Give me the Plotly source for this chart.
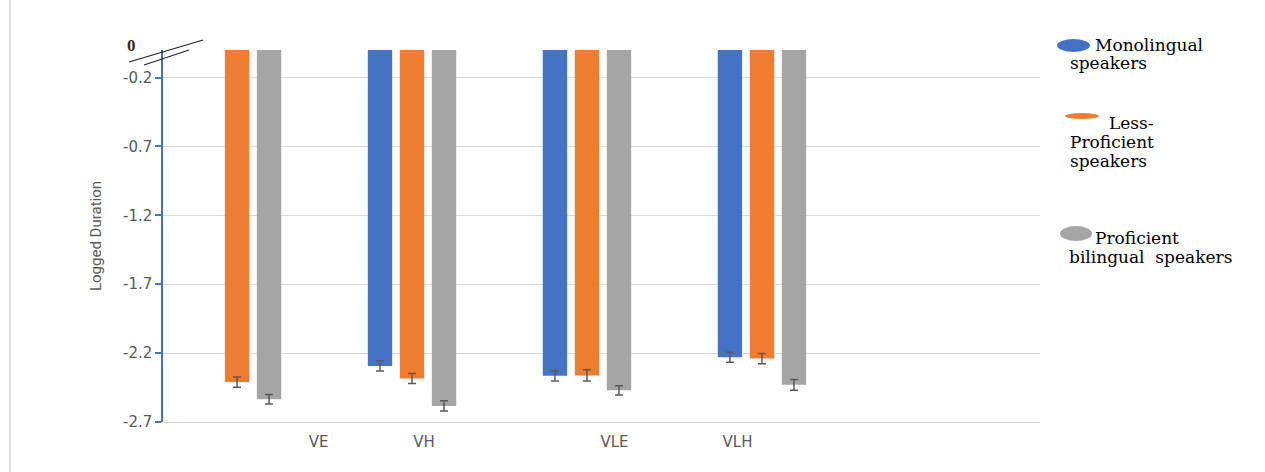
import plotly.graph_objects as go

# ---- data ----
categories = ["VE", "VH", "VLE", "VLH"]
mono = [None, -2.293, -2.365, -2.230]
mono_err = [None, 0.037, 0.037, 0.037]
less = [-2.410, -2.384, -2.362, -2.240]
less_err = [0.037, 0.036, 0.041, 0.037]
prof = [-2.535, -2.583, -2.470, -2.430]
prof_err = [0.035, 0.037, 0.034, 0.039]
y_ticks = [-0.2, -0.7, -1.2, -1.7, -2.2, -2.7]

# ---- layout constants ----
W, H = 1265, 472
ML, MR, MT, MB = 163, 225, 50, 50
LABEL_POS = [0.467, 1.069, 2.157, 2.860]   # where the category labels sit (as in the source)
x_idx = list(range(len(categories)))

BLUE, ORANGE, GRAY = "#4472C4", "#ED7D31", "#A5A5A5"
TXT = "#595959"

def px(x):
    return (x - ML) / (W - ML - MR)

def py(y):
    return (H - MB - y) / (H - MT - MB)

fig = go.Figure()
for name, vals, errs, col in [("Monolingual speakers", mono, mono_err, BLUE),
                              ("Less-Proficient speakers", less, less_err, ORANGE),
                              ("Proficient bilingual speakers", prof, prof_err, GRAY)]:
    fig.add_trace(go.Bar(
        x=x_idx, y=vals, name=name, marker_color=col, marker_line_width=0,
        error_y=dict(type="data", array=errs, color="#595959", thickness=1.5, width=4),
        showlegend=False))

fig.update_layout(
    width=W, height=H, margin=dict(l=ML, r=MR, t=MT, b=MB),
    paper_bgcolor="white", plot_bgcolor="white",
    barmode="group", bargap=0.451, bargroupgap=0.24,
    xaxis=dict(range=[-0.423, 4.589], tickvals=LABEL_POS, ticktext=categories,
               showgrid=False, zeroline=False, showline=True, linecolor="#D9D9D9",
               linewidth=1, ticks="", ticklabelstandoff=6,
               tickfont=dict(family="DejaVu Sans", size=15, color=TXT)),
    yaxis=dict(range=[-2.7, 0.0], tickvals=y_ticks, ticktext=[f"{v:.1f}" for v in y_ticks],
               showgrid=True, gridcolor="#D9D9D9", gridwidth=1, zeroline=False,
               showline=True, linecolor=BLUE, linewidth=1.5, ticks="outside",
               ticklen=6, tickcolor=BLUE, tickwidth=1.5,
               tickfont=dict(family="DejaVu Sans", size=15, color=TXT),
               title=dict(text="Logged Duration", standoff=18,
                          font=dict(family="Liberation Sans Narrow, Roboto, sans-serif",
                                    size=15, color=TXT))),
)

shapes = []
# left border line of the picture
shapes.append(dict(type="line", xref="paper", yref="paper", x0=px(10), x1=px(10),
                   y0=py(0), y1=py(472), line=dict(color="#D0D0D0", width=1.5)))
# axis break marks
shapes.append(dict(type="line", xref="paper", yref="paper", x0=px(129), y0=py(62),
                   x1=px(203), y1=py(40), line=dict(color="#222222", width=1.2)))
shapes.append(dict(type="line", xref="paper", yref="paper", x0=px(144), y0=py(65),
                   x1=px(189), y1=py(50), line=dict(color="#222222", width=1.2)))
# legend markers (ellipses)
for (x0, y0, x1, y1, col) in [(1057, 39, 1090, 52, BLUE), (1065, 113, 1099, 119, ORANGE),
                              (1060, 226, 1092, 241, GRAY)]:
    shapes.append(dict(type="circle", xref="paper", yref="paper", x0=px(x0), x1=px(x1),
                       y0=py(y1), y1=py(y0), fillcolor=col, line=dict(width=0)))
fig.update_layout(shapes=shapes)

annotations = [dict(text="<b>0</b>", x=px(131), y=py(45), xref="paper", yref="paper",
                    xanchor="center", yanchor="middle", showarrow=False,
                    font=dict(family="Liberation Serif", size=17, color="#3a2a1e"))]
LEG_FONT = dict(family="DejaVu Serif", size=17, color="black")
for text, x, y in [("Monolingual", 1093, 45), ("speakers", 1068, 63),
                   ("Less-", 1107, 123), ("Proficient", 1068, 142), ("speakers", 1068, 161),
                   ("Proficient", 1093, 238), ("bilingual  speakers", 1067, 257)]:
    annotations.append(dict(text=text, x=px(x), y=py(y), xref="paper", yref="paper",
                            xanchor="left", yanchor="middle", showarrow=False, font=LEG_FONT))
fig.update_layout(annotations=annotations)

fig.write_html("out.html")
